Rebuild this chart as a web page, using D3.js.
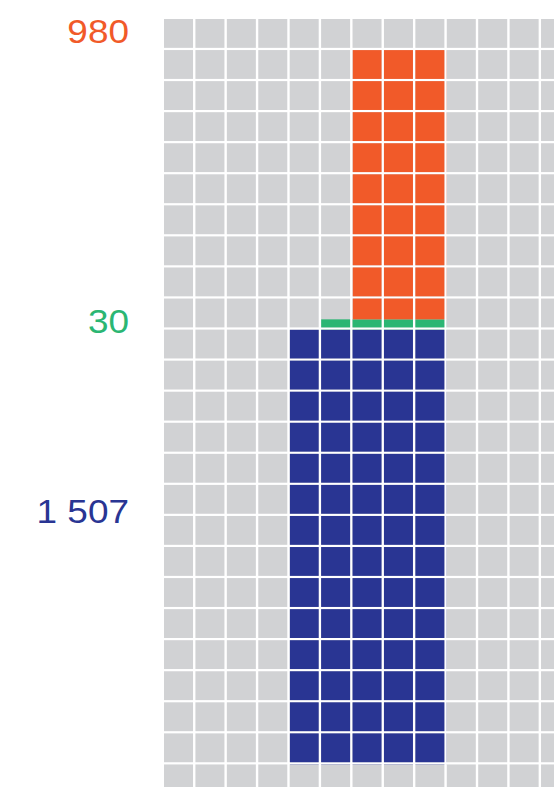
<!DOCTYPE html>
<html>
<head>
    <meta charset="utf-8">
    <title>Grid stack</title>
    <script src="https://d3js.org/d3.v7.min.js"></script>
    <style>
        body { margin: 0; background: #fff; }
        text { font-family: "Liberation Sans", Arial, sans-serif; }
    </style>
</head>
<body>
<div id="chart"></div>
<script>
    // Values and their labels, bottom segment first
    var labels = ["1 507", "30", "980"];
    var values = [1507, 30, 980];
    var colors = ["#293593", "#2bb673", "#f15a29"];
    // Extent of each segment in grid units
    var firstCol = [4, 5, 6];
    var lastCol = [9, 9, 9];
    var heights = [14, 0.33, 8.67];
    // Row where each label sits
    var labelRow = [16.22, 10.12, 0.77];

    var nCols = 13, nRows = 25, baseRow = 24;
    var width = 554, height = 787;

    var svg = d3.select("#chart")
      .append("svg")
        .attr("width", width)
        .attr("height", height);

    // Grid scales (column / row units -> pixels)
    var x = d3.scaleLinear().domain([0, nCols]).range([164, 164 + nCols * 31.42]);
    var y = d3.scaleLinear().domain([0, nRows]).range([19, 19 + nRows * 31.06]);
    var cw = x(1) - x(0) - 2.4, ch = y(1) - y(0) - 2.2;

    var cells = [];
    for (var r = 0; r < nRows; r++)
        for (var c = 0; c < nCols; c++) cells.push({r: r, c: c});

    // Clip path made of all cells
    svg.append("clipPath").attr("id", "cells")
      .selectAll("rect")
      .data(cells)
      .enter().append("rect")
        .attr("x", function(d) { return x(d.c); })
        .attr("y", function(d) { return y(d.r); })
        .attr("width", cw)
        .attr("height", ch);

    svg.selectAll(".cell")
      .data(cells)
      .enter().append("rect")
        .attr("class", "cell")
        .attr("x", function(d) { return x(d.c); })
        .attr("y", function(d) { return y(d.r); })
        .attr("width", cw)
        .attr("height", ch)
        .style("fill", "#d1d2d4");

    // Stack the segments up from the base row
    var segs = [], stackTop = baseRow;
    values.forEach(function(v, i) {
        segs.push({i: i, y0: stackTop - heights[i], y1: stackTop});
        stackTop -= heights[i];
    });

    svg.append("g")
        .attr("clip-path", "url(#cells)")
      .selectAll("rect")
      .data(segs)
      .enter().append("rect")
        .attr("x", function(d) { return x(firstCol[d.i]); })
        .attr("y", function(d) { return y(d.y0); })
        .attr("width", function(d) { return x(lastCol[d.i]) - x(firstCol[d.i]); })
        .attr("height", function(d) { return y(d.y1) - y(d.y0); })
        .style("fill", function(d) { return colors[d.i]; });

    // Value labels
    svg.selectAll(".label")
      .data(labels)
      .enter().append("text")
        .attr("class", "label")
        .attr("transform", function(d, i) {
            return "translate(129," + y(labelRow[i]) + ") scale(1.12,1)";
        })
        .style("text-anchor", "end")
        .style("font-size", "33px")
        .style("fill", function(d, i) { return colors[i]; })
        .text(function(d) { return d; });
</script>
</body>
</html>
